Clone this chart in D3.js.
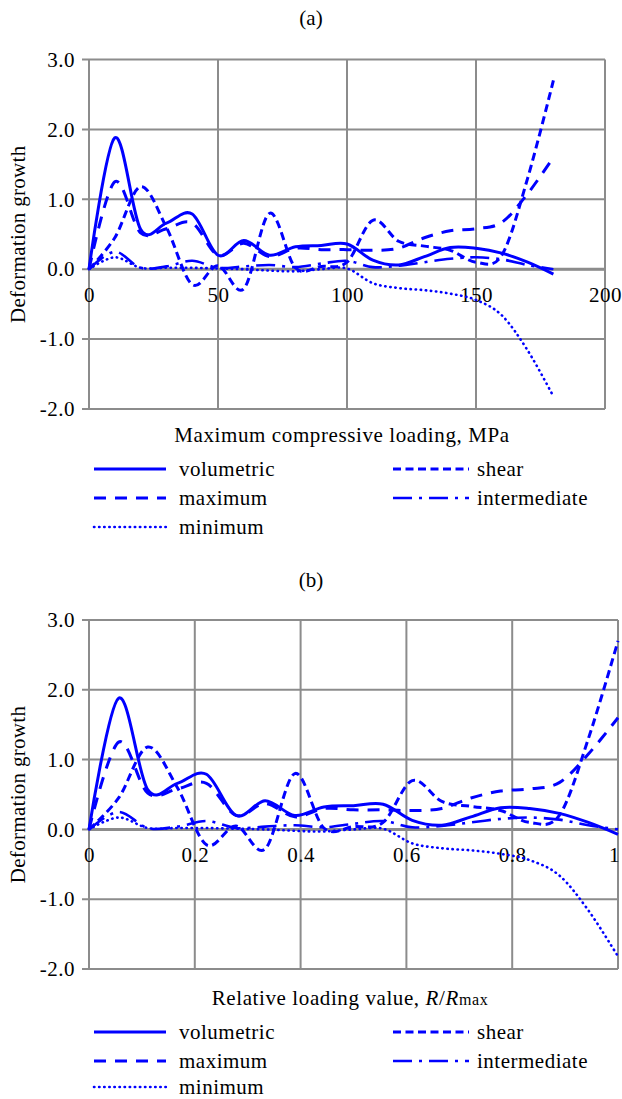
<!DOCTYPE html>
<html>
<head>
<meta charset="utf-8">
<script src="https://cdnjs.cloudflare.com/ajax/libs/d3/7.8.5/d3.min.js"></script>
<style>
  body { margin: 0; background: #fff; }
  svg text { font-family: 'Liberation Serif', 'Times New Roman', Tinos, 'DejaVu Serif', serif !important; fill: #000; }
</style>
</head>
<body>
<div id="chart-area"></div>
<script>
// loading steps, MPa, and the same steps as R/Rmax
var loads = [0, 10, 20, 30, 40, 50, 60, 70, 80, 90, 100, 110, 120, 130, 140, 150, 160, 170, 180];
var relLoads = [0, 0.056, 0.111, 0.167, 0.222, 0.278, 0.333, 0.389, 0.444, 0.5, 0.556, 0.611, 0.667, 0.722, 0.778, 0.833, 0.889, 0.944, 1];

var volumetric   = [0, 1.88, 0.57, 0.66, 0.79, 0.2, 0.41, 0.2, 0.32, 0.34, 0.36, 0.13, 0.06, 0.18, 0.31, 0.3, 0.23, 0.1, -0.07];
var shear        = [0, 0.45, 1.18, 0.6, -0.22, 0.05, -0.28, 0.8, 0.02, 0.04, 0.1, 0.7, 0.4, 0.33, 0.27, 0.1, 0.2, 1.3, 2.7];
var maximum      = [0, 1.25, 0.52, 0.58, 0.66, 0.2, 0.37, 0.18, 0.3, 0.28, 0.28, 0.27, 0.3, 0.45, 0.55, 0.58, 0.67, 1.08, 1.6];
var intermediate = [0, 0.25, 0.02, 0.04, 0.12, 0.02, 0.04, 0.06, 0.03, 0.08, 0.12, 0.03, 0.05, 0.1, 0.15, 0.17, 0.14, 0.06, 0];
var minimum      = [0, 0.17, 0.02, 0.02, 0.02, 0.01, 0, -0.02, -0.03, 0, 0.01, -0.2, -0.27, -0.3, -0.35, -0.44, -0.66, -1.16, -1.82];

var yTicks = [3, 2, 1, 0, -1, -2];
var xTicksA = [0, 50, 100, 150, 200];
var xTicksB = [0, 0.2, 0.4, 0.6, 0.8, 1];

var seriesNames = ['volumetric', 'shear', 'maximum', 'intermediate', 'minimum'];
var seriesValues = [volumetric, shear, maximum, intermediate, minimum];

// line look per series
var styles = {
  volumetric:   {w: 3,   dash: null,        cap: 'butt'},
  shear:        {w: 3,   dash: '8,4.5',     cap: 'butt'},
  maximum:      {w: 3,   dash: '12,9',      cap: 'butt'},
  intermediate: {w: 2.6, dash: '19,7,3,7',  cap: 'butt'},
  minimum:      {w: 2.6, dash: '0.4,4.7',   cap: 'round'}
};

var gridColor = '#8c8c8c';
var fontSize = 21;
var serif = "'Liberation Serif', 'Times New Roman', Tinos, 'DejaVu Serif', serif";

var svgWidth = 622, svgHeight = 1099;
var svg = d3.select('#chart-area')
  .append('svg')
  .attr('width', svgWidth)
  .attr('height', svgHeight)
  .attr('font-family', serif)
  .style('background', '#fff');

function applyStyle(sel, name) {
  var s = styles[name];
  sel.attr('fill', 'none')
    .attr('stroke', '#0000ff')
    .attr('stroke-width', s.w)
    .attr('stroke-linecap', s.cap)
    .attr('stroke-linejoin', 'round');
  if (s.dash) sel.attr('stroke-dasharray', s.dash);
}

function textStyle(sel, spacing) {
  sel.attr('font-family', serif)
    .attr('font-size', fontSize)
    .attr('fill', '#000')
    .style('letter-spacing', spacing + 'px');
}

function drawPanel(p) {
  var g = svg.append('g');

  var x = d3.scaleLinear().domain(p.xDomain).range([p.left, p.right]);
  var y = d3.scaleLinear().domain([-2, 3]).range([p.bottom, p.top]);

  // panel title
  g.append('text')
    .attr('x', 311).attr('y', p.titleY).attr('dy', '0.35em')
    .attr('text-anchor', 'middle')
    .call(textStyle, 0)
    .text(p.title);

  // horizontal grid, with short ticks out to the left
  g.selectAll('.hgrid')
    .data(yTicks).enter()
    .append('line')
    .attr('x1', p.left - 7).attr('x2', p.right)
    .attr('y1', function(d) { return y(d); }).attr('y2', function(d) { return y(d); })
    .attr('stroke', gridColor).attr('stroke-width', 2);

  // vertical grid
  g.selectAll('.vgrid')
    .data(p.xTicks).enter()
    .append('line')
    .attr('x1', function(d) { return x(d); }).attr('x2', function(d) { return x(d); })
    .attr('y1', p.top).attr('y2', p.bottom)
    .attr('stroke', gridColor).attr('stroke-width', 2);

  // zero line
  g.append('line')
    .attr('x1', p.left).attr('x2', p.right)
    .attr('y1', y(0)).attr('y2', y(0))
    .attr('stroke', gridColor).attr('stroke-width', 3);

  // y labels
  var yAxis = d3.axisLeft(y).tickValues(yTicks).tickSize(7).tickPadding(7)
    .tickFormat(function(d) { return d.toFixed(1); });
  g.append('g')
    .attr('transform', 'translate(' + p.left + ',0)')
    .call(yAxis)
    .attr('font-family', serif)
    .call(function(a) { a.select('.domain').remove(); a.selectAll('line').remove(); })
    .selectAll('text')
    .call(textStyle, 0.5);

  // x labels sit under the zero line
  var xAxis = d3.axisBottom(x).tickValues(p.xTicks).tickSize(0).tickPadding(18)
    .tickFormat(function(d) { return String(d); });
  g.append('g')
    .attr('transform', 'translate(0,' + y(0) + ')')
    .call(xAxis)
    .attr('font-family', serif)
    .call(function(a) { a.select('.domain').remove(); })
    .selectAll('text')
    .call(textStyle, 0.5)
    .attr('dx', function(d, i) { return i === p.xTicks.length - 1 && p.right > 610 ? -4 : 0; });

  // y title
  g.append('text')
    .attr('transform', 'translate(18,' + ((p.top + p.bottom) / 2) + ') rotate(-90)')
    .attr('dy', '0.35em')
    .attr('text-anchor', 'middle')
    .call(textStyle, 0.3)
    .text('Deformation growth');

  // x title
  var xt = g.append('text')
    .attr('x', p.xTitleX).attr('y', p.xTitleY).attr('dy', '0.35em')
    .attr('text-anchor', 'middle')
    .call(textStyle, 0.6);
  p.xTitle(xt);

  // curves
  var line = d3.line()
    .x(function(d, i) { return x(p.xValues[i]); })
    .y(function(d) { return y(d); })
    .curve(d3.curveCardinal.tension(0));

  seriesNames.forEach(function(name, k) {
    g.append('path')
      .datum(seriesValues[k])
      .attr('d', line)
      .call(applyStyle, name);
  });

  // legend
  var cols = [{x1: 94, x2: 166, tx: 179}, {x1: 393, x2: 469, tx: 477}];
  var rows = [p.legendY, p.legendY + 29, p.legendY + p.lastRow];
  var placing = {
    volumetric: [0, 0], shear: [1, 0], maximum: [0, 1], intermediate: [1, 1], minimum: [0, 2]
  };
  seriesNames.forEach(function(name) {
    var c = cols[placing[name][0]], r = rows[placing[name][1]];
    g.append('line')
      .attr('x1', c.x1).attr('x2', c.x2)
      .attr('y1', r).attr('y2', r)
      .call(applyStyle, name);
    g.append('text')
      .attr('x', c.tx).attr('y', r).attr('dy', '0.35em')
      .call(textStyle, 0.5)
      .text(name);
  });
}

drawPanel({
  title: '(a)', titleY: 18,
  left: 89, right: 605, top: 59.5, bottom: 409,
  xDomain: [0, 200], xTicks: xTicksA, xValues: loads,
  xTitleX: 342, xTitleY: 435,
  xTitle: function(t) { t.text('Maximum compressive loading, MPa'); },
  legendY: 469, lastRow: 58
});

drawPanel({
  title: '(b)', titleY: 580,
  left: 89, right: 618, top: 620, bottom: 969,
  xDomain: [0, 1], xTicks: xTicksB, xValues: relLoads,
  xTitleX: 350, xTitleY: 998,
  xTitle: function(t) {
    t.append('tspan').text('Relative loading value, ');
    t.append('tspan').style('font-style', 'italic').text('R');
    t.append('tspan').text('/');
    t.append('tspan').style('font-style', 'italic').text('R');
    t.append('tspan').attr('font-size', 16).text('max');
  },
  legendY: 1032, lastRow: 55
});
</script>
</body>
</html>
